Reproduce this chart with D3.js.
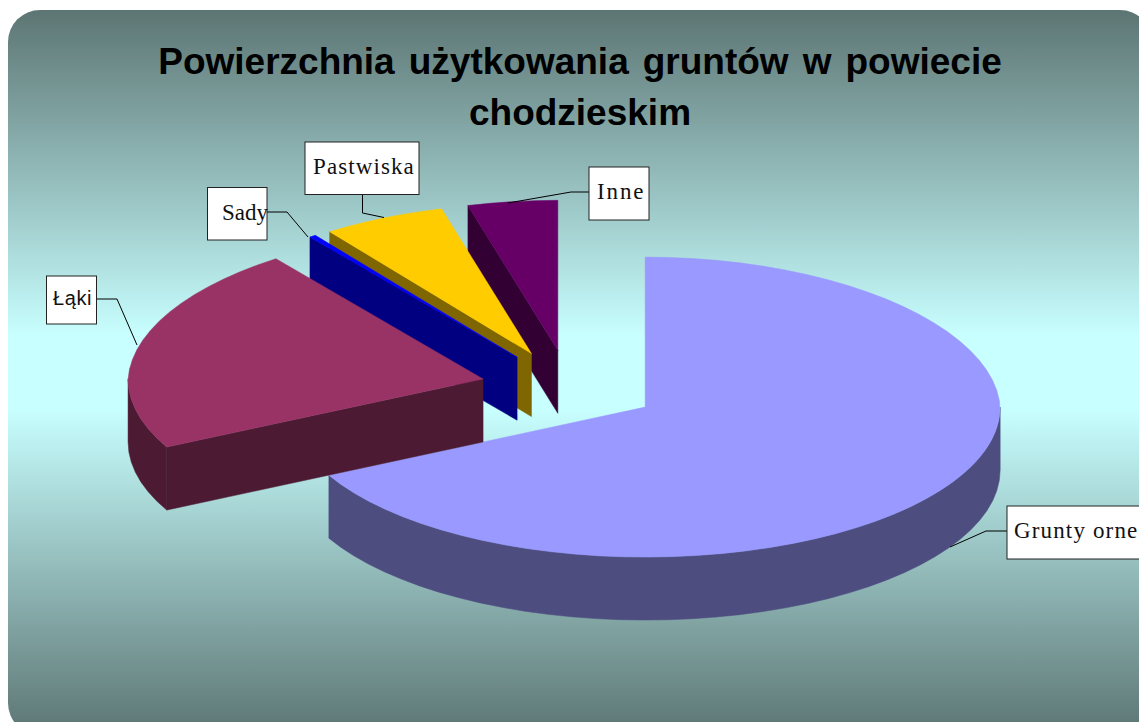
<!DOCTYPE html>
<html>
<head>
<meta charset="utf-8">
<script src="https://cdn.jsdelivr.net/npm/d3@7"></script>
<style>
html,body{margin:0;padding:0;background:#fff;overflow:hidden}
</style>
</head>
<body>
<div id="chart"></div>
<script>
const categories = ["Grunty orne","Łąki","Sady","Pastwiska","Inne"]
const values = [67.5,22.3,0.3,5.7,4.2]
const topColors = ["#9999ff","#993366","#0000ff","#ffcc00","#660066"]
const sideColors = ["#4d4d80","#4d1a33","#000080","#806600","#330033"]
const drawOrder = ["Inne","Pastwiska","Sady","Grunty orne","Łąki"]
const titleLines = ["Powierzchnia użytkowania gruntów w powiecie","chodzieskim"]

const canvas = {width:1139,height:722}
const pieBox = {cx:569.5,cy:387.5,rx:355,ry:150,depth:63,explode:0.25,narrowBack:0.03}

const labelBoxes = {
  "Grunty orne":{x:1007,y:506,w:140,h:53,tx:1014,ty:538,sp:1.15,leader:[[1007,531],[986,531],[950,547]]},
  "Łąki":{x:46.5,y:276,w:50,h:48,tx:53,ty:305,sp:0.6,leader:[[97,299],[117,299],[137,345]]},
  "Sady":{x:207.5,y:187.5,w:59.5,h:52.5,tx:222,ty:220,sp:0,leader:[[267,212],[287,212],[308,237]]},
  "Pastwiska":{x:305,y:142,w:114,h:52.5,tx:313,ty:174,sp:1.1,leader:[[362.5,195],[362.5,213],[384,217.5]]},
  "Inne":{x:589,y:167,w:60,h:53,tx:597,ty:199,sp:1.9,leader:[[590,192],[571,192],[508,203]]}
}

const svg = d3.select("#chart").append("svg")
  .attr("width",canvas.width).attr("height",canvas.height)
  .style("display","block")

const grad = svg.append("defs").append("linearGradient")
  .attr("id","bg").attr("x1",0).attr("y1",0).attr("x2",0).attr("y2",1)
grad.append("stop").attr("offset","0%").attr("stop-color","#5c7573")
grad.append("stop").attr("offset","45%").attr("stop-color","#c8ffff")
grad.append("stop").attr("offset","55%").attr("stop-color","#c8ffff")
grad.append("stop").attr("offset","100%").attr("stop-color","#5c7573")

svg.append("rect").attr("x",8).attr("y",10).attr("width",1144).attr("height",725)
  .attr("rx",32).attr("fill","url(#bg)")

svg.append("g").selectAll("text").data(titleLines).enter().append("text")
  .attr("x",580).attr("y",(d,i) => 74+i*51)
  .attr("text-anchor","middle")
  .attr("font-family","'Liberation Sans',Arial,sans-serif")
  .attr("font-weight","bold").attr("font-size","37px")
  .attr("word-spacing","3.75px")
  .text(d => d)

const pie = d3.pie().sort(null).value(d => d.value).startAngle(0).endAngle(2*Math.PI)
const slices = pie(categories.map((name,i) => ({name,value:values[i],top:topColors[i],side:sideColors[i]})))

function project(center,angle){
  // back of the pie is a little narrower than the front
  const k = 1-pieBox.narrowBack*Math.max(0,Math.cos(angle))
  return [center.x+pieBox.rx*k*Math.sin(angle),center.y-pieBox.ry*Math.cos(angle)]
}

function arcPoints(center,a0,a1){
  const n = Math.max(1,Math.ceil((a1-a0)/(Math.PI/45)))
  return d3.range(n+1).map(i => project(center,a0+(a1-a0)*i/n))
}

const line = d3.line()
const down = pts => pts.map(p => [p[0],p[1]+pieBox.depth])

function drawSlice(g,s){
  const mid = (s.startAngle+s.endAngle)/2
  const center = {
    x:pieBox.cx+pieBox.rx*pieBox.explode*Math.sin(mid),
    y:pieBox.cy-pieBox.ry*pieBox.explode*Math.cos(mid)
  }
  const apex = [center.x,center.y]
  const rim = arcPoints(center,s.startAngle,s.endAngle)

  // radial wall at the start edge faces the viewer on the left half only
  if(s.startAngle > Math.PI){
    const wall = [apex,rim[0]]
    g.append("path").attr("d",line(wall.concat(down(wall).reverse()))+"Z")
      .attr("fill",s.data.side).attr("stroke",s.data.side).attr("stroke-width",0.5)
  }
  // outer wall, front half of the ellipse
  const a0 = Math.max(s.startAngle,Math.PI/2)
  const a1 = Math.min(s.endAngle,3*Math.PI/2)
  if(a1 > a0){
    const front = arcPoints(center,a0,a1)
    g.append("path").attr("d",line(front.concat(down(front).reverse()))+"Z")
      .attr("fill",s.data.side).attr("stroke",s.data.side).attr("stroke-width",0.5)
  }
  g.append("path").attr("d",line([apex].concat(rim))+"Z")
    .attr("fill",s.data.top).attr("stroke",s.data.top).attr("stroke-width",0.5)
}

const pieG = svg.append("g")
drawOrder.forEach(name => drawSlice(pieG,slices.find(s => s.data.name === name)))

function drawLabels(){
  const labels = svg.append("g").selectAll("g").data(categories).enter().append("g")

  labels.append("path")
    .attr("d",d => line(labelBoxes[d].leader))
    .attr("fill","none").attr("stroke","#000").attr("stroke-width",1)

  labels.append("rect")
    .attr("x",d => labelBoxes[d].x).attr("y",d => labelBoxes[d].y)
    .attr("width",d => labelBoxes[d].w).attr("height",d => labelBoxes[d].h)
    .attr("fill","#fff").attr("stroke","#222").attr("stroke-width",1)

  labels.append("text")
    .attr("x",d => labelBoxes[d].tx).attr("y",d => labelBoxes[d].ty)
    .attr("font-family",d => d === "Łąki" ? "'Liberation Sans',sans-serif" : "'Liberation Serif',serif")
    .attr("font-size",d => d === "Łąki" ? "20px" : "23px")
    .attr("letter-spacing",d => labelBoxes[d].sp)
    .attr("fill","#111")
    .text(d => d)
}
drawLabels()
</script>
</body>
</html>
